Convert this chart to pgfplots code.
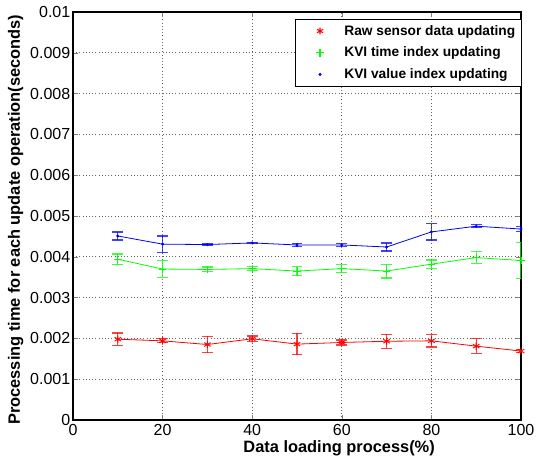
\documentclass[border=0pt]{standalone}
\usepackage{fontspec}
\setmainfont{Liberation Sans}
\usepackage{pgfplots}
\usepackage{pgfplotstable}
\pgfplotsset{compat=1.18}

% x, mean time, error (seconds)
\pgfplotstableread{
x  y        e
10 0.00198  0.00015
20 0.00194  0.00005
30 0.00185  0.00020
40 0.00199  0.00007
50 0.00186  0.00026
60 0.00190  0.00006
70 0.00193  0.00017
80 0.00194  0.00015
90 0.00181  0.00018
100 0.00169 0.00003
}\rawdata
\pgfplotstableread{
x  y        e
10 0.00394  0.00013
20 0.00370  0.00020
30 0.00369  0.00006
40 0.00371  0.00005
50 0.00365  0.00011
60 0.00371  0.00010
70 0.00365  0.00017
80 0.00382  0.00010
90 0.00398  0.00014
100 0.00391 0.00045
}\timedata
\pgfplotstableread{
x  y        e
10 0.00451  0.00010
20 0.00431  0.00020
30 0.00430  0.00003
40 0.00434  0.00002
50 0.00429  0.00004
60 0.00429  0.00004
70 0.00424  0.00010
80 0.00461  0.00020
90 0.00475  0.00004
100 0.00468 0.00006
}\valuedata

\definecolor{mred}{RGB}{255,0,0}
\definecolor{mgreen}{RGB}{0,255,0}
\definecolor{mblue}{RGB}{0,0,255}

\pgfplotsset{
  ebar/.style={error bars/.cd, y dir=both, y explicit,
    error bar style={line width=0.9pt, #1, opacity=0.75},
    error mark options={rotate=90, mark size=4pt, line width=0.9pt, #1, opacity=0.75}},
}

\begin{document}
\begin{tikzpicture}
\begin{axis}[
  scale only axis,
  width=336pt, height=306pt,
  xmin=0, xmax=100, ymin=0, ymax=0.01,
  xtick={0,20,40,60,80,100},
  ytick={0,0.001,0.002,0.003,0.004,0.005,0.006,0.007,0.008,0.009,0.01},
  yticklabels={0,0.001,0.002,0.003,0.004,0.005,0.006,0.007,0.008,0.009,0.01},
  xticklabels={0,20,40,60,80,100},
  scaled y ticks=false,
  tick label style={font=\fontsize{12}{14}\selectfont},
  yticklabel style={xshift=1.5pt},
  tick align=inside,
  major tick length=4pt,
  axis line style={line width=0.9pt},
  grid=major,
  major grid style={dotted, black!60, line width=0.5pt},
  xlabel={\textbf{Data loading process(\%)}},
  ylabel={\textbf{Processing time for each update operation(seconds)}},
  label style={font=\fontsize{12.3}{14}\selectfont},
  xlabel style={at={([yshift=-21pt]axis description cs:0.594,0)}, anchor=center},
  ylabel style={at={([xshift=-43pt]axis description cs:0,0.491)}, anchor=center},
  legend style={at={(1,1)}, anchor=north east, xshift=0.5pt, yshift=-5pt,
    draw=black, line width=0.6pt,
    font=\bfseries\fontsize{10.3}{12}\selectfont, row sep=3.3pt, inner sep=2.5pt,
    legend cell align=left},
  legend image code/.code={\path (0cm,0cm) (1.12cm,0cm); \draw[#1] plot coordinates {(0.56cm,0cm)};},
]
\addplot[forget plot, mred, line width=0.6pt, mark=asterisk, mark size=2.8pt,
  mark options={solid, line width=0.7pt}, ebar=mred]
  table[x=x, y=y, y error=e]{\rawdata};
\addplot[forget plot, mgreen, line width=0.6pt, mark=+, mark size=2.8pt,
  mark options={solid, line width=0.7pt}, ebar=mgreen]
  table[x=x, y=y, y error=e]{\timedata};
\addplot[forget plot, mblue, line width=0.6pt, mark=*, mark size=0.8pt,
  mark options={solid}, ebar=mblue]
  table[x=x, y=y, y error=e]{\valuedata};

\addlegendimage{only marks, color=mred, mark=asterisk, mark size=2.6pt,
  mark options={draw=mred, line width=0.8pt}}
\addlegendentry{Raw sensor data updating}
\addlegendimage{only marks, color=mgreen, mark=+, mark size=3pt,
  mark options={draw=mgreen, line width=0.8pt}}
\addlegendentry{KVI time index updating}
\addlegendimage{only marks, color=mblue, mark=*, mark size=0.8pt,
  mark options={draw=mblue, fill=mblue}}
\addlegendentry{KVI value index updating}
\end{axis}
\pgfresetboundingbox
\path (current axis.south west) ++(-54.75pt,-34.5pt) coordinate (bbl);
\path (current axis.north east) ++(11.25pt,9pt) coordinate (bbr);
\useasboundingbox (bbl) rectangle (bbr);
\end{tikzpicture}
\end{document}
